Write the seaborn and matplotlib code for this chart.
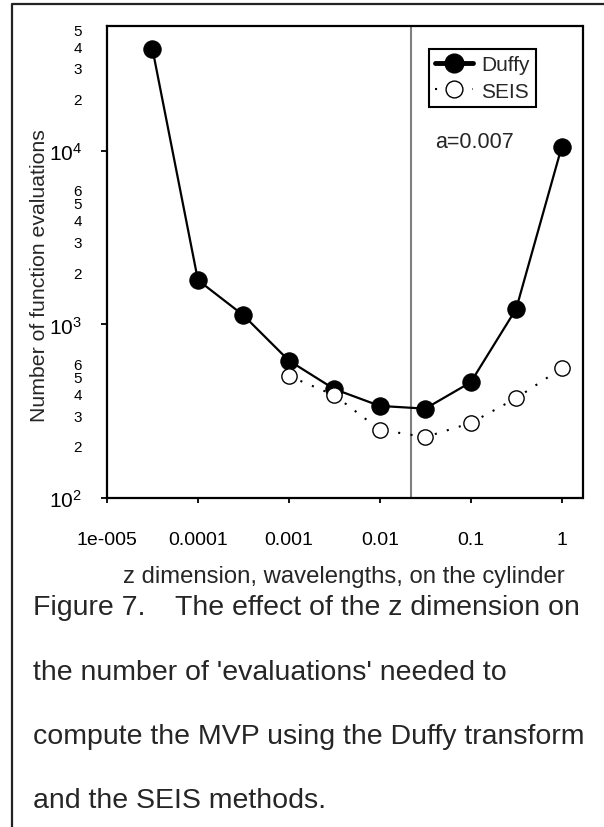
import numpy as np
import pandas as pd
import seaborn as sns
import matplotlib
matplotlib.use("Agg")
import matplotlib.pyplot as plt
from matplotlib.ticker import FixedLocator, FixedFormatter, NullLocator
from matplotlib.lines import Line2D

# z dimension (wavelengths) and number of function evaluations
duffy_z = [3.16e-5, 1e-4, 3.16e-4, 1e-3, 3.16e-3, 1e-2, 3.16e-2, 0.1, 0.316, 1.0]
duffy_evals = [38500, 1800, 1130, 620, 425, 340, 328, 465, 1230, 10500]

seis_z = [1e-3, 3.16e-3, 1e-2, 3.16e-2, 0.1, 0.316, 1.0]
seis_evals = [505, 392, 248, 225, 271, 377, 560]

a_marker = 0.022
a_label = "a=0.007"

x_ticks = [1e-5, 1e-4, 1e-3, 1e-2, 1e-1, 1.0]
x_ticklabels = ["1e-005", "0.0001", "0.001", "0.01", "0.1", "1"]
y_major = [1e2, 1e3, 1e4]
y_major_labels = [r"$\mathregular{10^{2}}$", r"$\mathregular{10^{3}}$", r"$\mathregular{10^{4}}$"]
y_minor = [200, 300, 400, 500, 600, 2000, 3000, 4000, 5000, 6000,
           20000, 30000, 40000, 50000]
y_minor_labels = ["2", "3", "4", "5", "6", "2", "3", "4", "5", "6",
                  "2", "3", "4", "5"]

caption_head = "Figure 7."
caption_lines = ["The effect of the z dimension on",
                 "the number of 'evaluations' needed to",
                 "compute the MVP using the Duffy transform",
                 "and the SEIS methods."]

duffy_df = pd.DataFrame({"z": duffy_z, "evals": duffy_evals})
seis_df = pd.DataFrame({"z": seis_z, "evals": seis_evals})

sns.set_style("white")
plt.rcParams["font.family"] = ["Liberation Sans", "DejaVu Sans"]
plt.rcParams["mathtext.fontset"] = "custom"
plt.rcParams["mathtext.rm"] = "Liberation Sans"
plt.rcParams["mathtext.default"] = "regular"

W, H = 604, 828
fig = plt.figure(figsize=(W / 100, H / 100), dpi=100)
fig.patch.set_facecolor("white")

def fx(px):
    return px / W

def fy(py):
    return 1 - py / H

ax_l, ax_r, ax_t, ax_b = 107, 582.5, 26.7, 499.3
ax = fig.add_axes([fx(ax_l), fy(ax_b), (ax_r - ax_l) / W, (ax_b - ax_t) / H])
ax.set_xscale("log")
ax.set_yscale("log")

ax.axvline(a_marker, color="#808080", lw=1.5, zorder=1)

sns.lineplot(data=duffy_df, x="z", y="evals", ax=ax, color="black", lw=1.6,
             marker="o", markersize=12.5, markerfacecolor="black",
             markeredgecolor="black", sort=False, label="Duffy", zorder=3)
sns.lineplot(data=seis_df, x="z", y="evals", ax=ax, color="black", lw=1.5,
             linestyle=(0, (1, 5)), marker="o", markersize=11,
             markerfacecolor="white", markeredgecolor="black",
             markeredgewidth=1.0, sort=False, label="SEIS", zorder=4)

ax.set_xlim(1e-5, 10 ** 0.229)
ax.set_ylim(100, 10 ** 4.719)

ax.xaxis.set_major_locator(FixedLocator(x_ticks))
ax.xaxis.set_major_formatter(FixedFormatter(x_ticklabels))
ax.xaxis.set_minor_locator(NullLocator())
ax.yaxis.set_major_locator(FixedLocator(y_major))
ax.yaxis.set_major_formatter(FixedFormatter(y_major_labels))
ax.yaxis.set_minor_locator(FixedLocator(y_minor))
ax.yaxis.set_minor_formatter(FixedFormatter(y_minor_labels))

ax.set_xlabel("")
ax.set_ylabel("")
for sp in ax.spines.values():
    sp.set_linewidth(1.6)
    sp.set_color("black")

ax.tick_params(axis="x", which="major", bottom=True, direction="out",
               length=3.6, width=1.3, pad=20, labelsize=14, colors="black")
ax.tick_params(axis="y", which="major", left=True, direction="out",
               length=4.3, width=1.3, pad=13.5, labelsize=15, colors="black")
ax.tick_params(axis="y", which="minor", left=True, length=0, pad=18,
               labelsize=11, colors="black")

leg = ax.legend(loc="upper left", bbox_to_anchor=(fx(429), fy(50)),
                bbox_transform=fig.transFigure, borderaxespad=0,
                fancybox=False, frameon=True, edgecolor="black",
                fontsize=15, handlelength=1.8, handletextpad=0.4,
                borderpad=0.3, labelspacing=0.35, framealpha=1,
                markerscale=1.1)
leg.get_frame().set_linewidth(1.5)
leg.get_lines()[0].set_linewidth(3.5)

fig.text(fx(435), fy(143), a_label, ha="left", va="center", fontsize=15.5)

fig.text(fx(40), fy(276), "Number of function evaluations", rotation=90,
         ha="center", va="center", fontsize=15.3)
fig.text(fx(344), fy(577), "z dimension, wavelengths, on the cylinder",
         ha="center", va="center", fontsize=17.2)

cap_y = [608, 673, 737, 801]
fig.text(fx(33), fy(cap_y[0]), caption_head, ha="left", va="center", fontsize=20.5)
fig.text(fx(175), fy(cap_y[0]), caption_lines[0], ha="left", va="center", fontsize=20.5)
for yy, line in zip(cap_y[1:], caption_lines[1:]):
    fig.text(fx(33), fy(yy), line, ha="left", va="center", fontsize=20.5)

# page border on the top and left edges
fig.add_artist(Line2D([fx(12), fx(12), fx(604)], [0, fy(5), fy(5)],
                      transform=fig.transFigure, color="#222222", lw=1.6))

fig.savefig("out.png", dpi=100, facecolor="white")
